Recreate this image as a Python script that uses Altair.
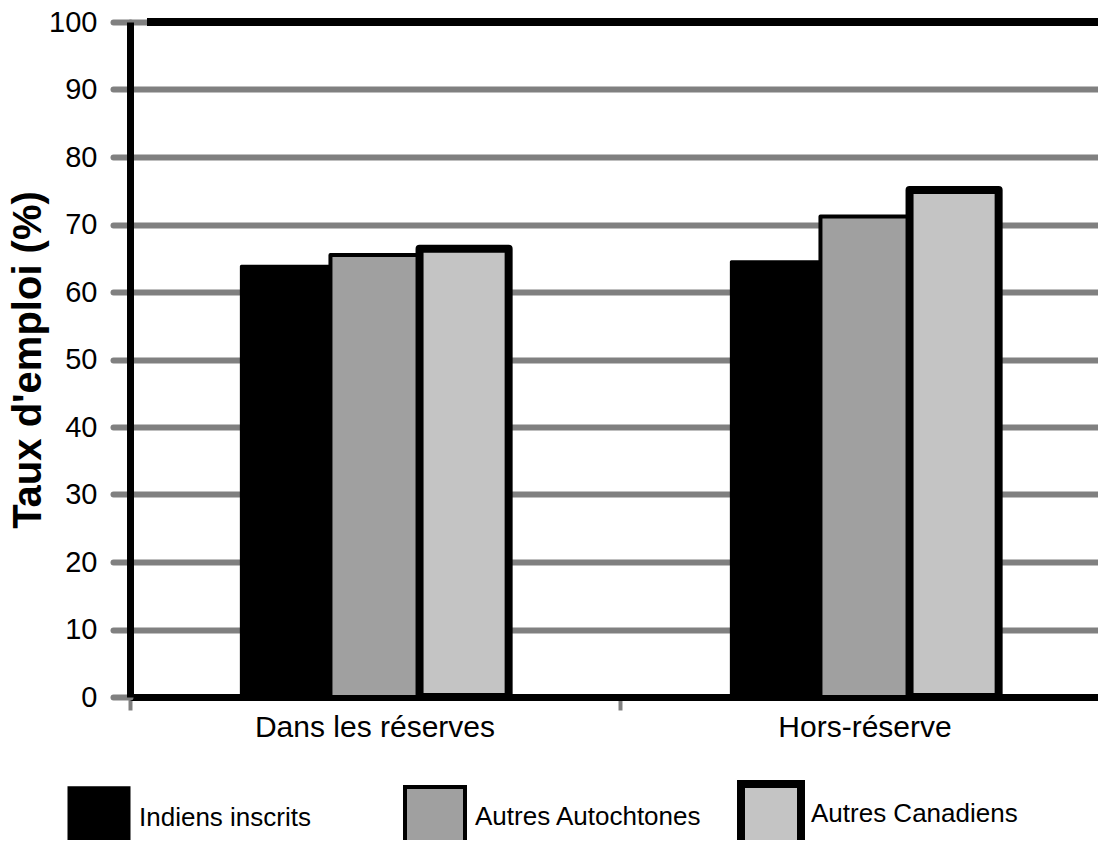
import altair as alt
import pandas as pd

categories = ["Dans les réserves", "Hors-réserve"]
groups = ["Indiens inscrits", "Autres Autochtones", "Autres Canadiens"]
values_dans = [63.8, 65.5, 66.4]
values_hors = [64.5, 71.2, 75.1]
fill_colors = ["#000000", "#a0a0a0", "#c4c4c4"]
stroke_widths = [3, 4, 8]
y_ticks = list(range(0, 101, 10))
top_line = [100]

FONT = "Liberation Sans"
W, H = 980, 675

rows = []
for cat, vals in zip(categories, [values_dans, values_hors]):
    for g, v in zip(groups, vals):
        rows.append({"cat": cat, "grp": g, "val": v})
df = pd.DataFrame(rows)

offset_domain = ["_pad_left"] + groups + ["_pad_right"]

bars = alt.Chart(df).mark_bar(stroke="black", strokeJoin="round").encode(
    x=alt.X("cat:N", sort=categories,
            scale=alt.Scale(paddingInner=0, paddingOuter=0),
            axis=alt.Axis(title=None, labelAngle=0, labelFontSize=30, labelFont=FONT,
                          labelColor="black", domainColor="black", domainWidth=7,
                          tickColor="#808080", tickWidth=4, tickSize=13, bandPosition=0,
                          labelPadding=2, labelLimit=0, grid=False)),
    xOffset=alt.XOffset("grp:N",
                        scale=alt.Scale(domain=offset_domain, paddingInner=0, paddingOuter=0.25)),
    y=alt.Y("val:Q", scale=alt.Scale(domain=[0, 100], nice=False),
            axis=alt.Axis(values=y_ticks, title="Taux d'emploi (%)",
                          labelFontSize=29, labelFont=FONT, labelColor="black",
                          titleFontSize=40, titleFont=FONT, titleFontWeight="bold",
                          titleColor="black", titlePadding=0,
                          tickColor="#808080", tickWidth=6, tickSize=17, tickCap="round",
                          domainColor="black", domainWidth=7,
                          gridColor="#808080", gridWidth=6, gridCap="round",
                          labelPadding=16)),
    fill=alt.Fill("grp:N", scale=alt.Scale(domain=groups, range=fill_colors),
                  legend=alt.Legend(title=None)),
    strokeWidth=alt.StrokeWidth("grp:N",
                                scale=alt.Scale(type="ordinal", domain=groups, range=stroke_widths),
                                legend=alt.Legend(title=None)),
)

rule = alt.Chart(pd.DataFrame({"val": top_line})).mark_rule(
    color="black", strokeWidth=8
).encode(
    y=alt.Y("val:Q"),
    x=alt.value(17),
    x2=alt.value(W),
)

chart = alt.layer(bars, rule).properties(
    width=W, height=H,
    autosize=alt.AutoSizeParams(type="none"),
    padding={"left": 122, "top": 14, "right": -12, "bottom": 143},
).configure_view(stroke=None).configure_legend(
    orient="none", legendX=-65, legendY=758, direction="horizontal", columns=3,
    gridAlign="all", columnPadding=23, labelFontSize=26, labelFont=FONT,
    labelColor="black", labelOffset=6, labelLimit=0, padding=0, symbolType="square",
    symbolSize=3600, symbolStrokeColor="black", symbolFillColor="black",
)

chart.save("out.html", embed_options={"renderer": "svg", "actions": False})
